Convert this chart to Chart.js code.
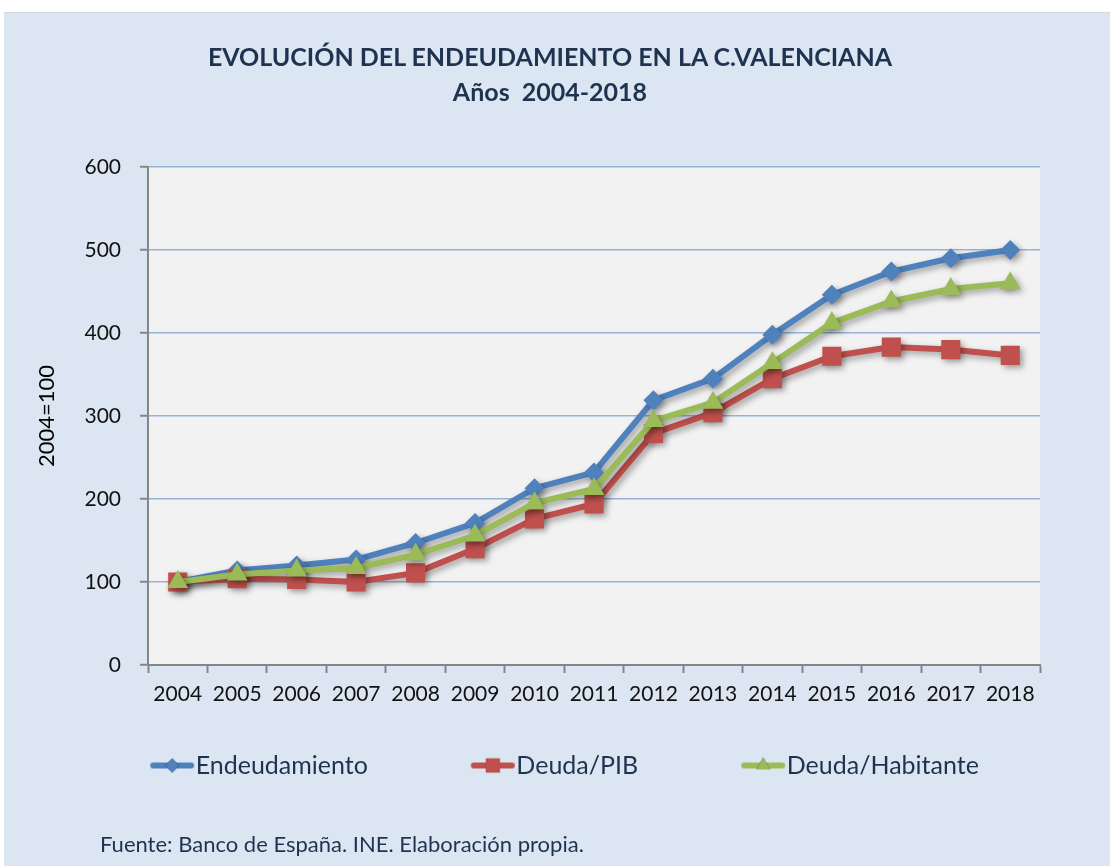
<!DOCTYPE html>
<html>
<head>
<meta charset="utf-8">
<script src="https://cdn.jsdelivr.net/npm/chart.js@4"></script>
<style>
  body { margin: 0; background: #fff; }
  #wrap {
    position: absolute; left: 4px; top: 12px; width: 1106px; height: 854px;
    background: #dce6f2; border-top: 1px solid #d4d8dd; box-sizing: border-box;
  }
  #title {
    position: absolute; left: 0; top: 26px; width: 1092px; text-align: center;
    font: bold 25px/35px Lato, sans-serif; color: #1f3350;
  }
  #footer {
    position: absolute; left: 96px; top: 817px; line-height: 26px;
    font: 22px Lato, sans-serif; color: #1f3350;
  }
</style>
</head>
<body>
<div id="wrap">
  <canvas id="chart"></canvas>
  <div id="title">EVOLUCIÓN DEL ENDEUDAMIENTO EN LA C.VALENCIANA<br>Años&nbsp; 2004-2018</div>
  <div id="footer">Fuente: Banco de España. INE. Elaboración propia.</div>
</div>
<script>
const years = ["2004", "2005", "2006", "2007", "2008", "2009", "2010", "2011",
  "2012", "2013", "2014", "2015", "2016", "2017", "2018"];
const endeudamiento = [100, 114, 120, 127, 147, 171, 213, 232, 319, 345, 398, 446, 474, 490, 500];
const deudaPIB = [100, 104, 103, 100, 111, 140, 176, 194, 279, 304, 345, 372, 383, 380, 373];
const deudaHabitante = [100, 109, 114, 117, 133, 156, 195, 212, 294, 316, 364, 412, 438, 453, 460];

const BLUE = "#4f81bd";
const RED = "#c0504d";
const GREEN = "#9bbb59";
const TEXT = "#1f3350";

// legend symbol: line with marker, drawn at the right side of a wider transparent canvas
const legendIcon = (color, style, radius) => {
  const c = document.createElement("canvas");
  c.width = 142;
  c.height = 24;
  const ctx = c.getContext("2d");
  ctx.strokeStyle = color;
  ctx.lineWidth = 6;
  ctx.lineCap = "round";
  ctx.beginPath();
  ctx.moveTo(100, 12);
  ctx.lineTo(138, 12);
  ctx.stroke();
  Chart.helpers.drawPoint(ctx, { pointStyle: style, radius: radius, rotation: 0, borderWidth: 0 }, 119, 12);
  ctx.fillStyle = color;
  ctx.fill();
  return c;
};

const plotBackground = {
  id: "plotBackground",
  beforeDraw(chart) {
    const { ctx, chartArea: a } = chart;
    ctx.save();
    ctx.fillStyle = "#f2f2f2";
    ctx.fillRect(a.left, a.top, a.right - a.left, a.bottom - a.top);
    ctx.restore();
  },
};

const lineShadow = {
  id: "lineShadow",
  beforeDatasetDraw(chart) {
    const ctx = chart.ctx;
    ctx.save();
    ctx.shadowColor = "rgba(0,0,0,0.35)";
    ctx.shadowBlur = 6;
    ctx.shadowOffsetX = 3;
    ctx.shadowOffsetY = 3;
  },
  afterDatasetDraw(chart) {
    chart.ctx.restore();
  },
};

new Chart(document.getElementById("chart"), {
  type: "line",
  data: {
    labels: years,
    datasets: [
      {
        label: "Endeudamiento",
        data: endeudamiento,
        borderColor: BLUE,
        backgroundColor: BLUE,
        pointStyle: "rectRot",
        pointRadius: 10,
        order: 3,
      },
      {
        label: "Deuda/PIB",
        data: deudaPIB,
        borderColor: RED,
        backgroundColor: RED,
        pointStyle: "rect",
        pointRadius: 13.5,
        order: 2,
      },
      {
        label: "Deuda/Habitante",
        data: deudaHabitante,
        borderColor: GREEN,
        backgroundColor: GREEN,
        pointStyle: "triangle",
        pointRadius: 12,
        order: 1,
      },
    ],
  },
  options: {
    responsive: true,
    maintainAspectRatio: false,
    animation: false,
    layout: { padding: { left: 0, right: 70, top: 154, bottom: 78 } },
    elements: {
      line: { borderWidth: 6, tension: 0 },
      point: { borderWidth: 0, hoverRadius: 10 },
    },
    plugins: {
      title: { display: false },
      legend: {
        position: "bottom",
        labels: {
          usePointStyle: true,
          pointStyleWidth: 118,
          color: TEXT,
          font: { family: "Lato", size: 25 },
          padding: 18,
          generateLabels(chart) {
            const icons = [
              legendIcon(BLUE, "rectRot", 7),
              legendIcon(RED, "rect", 10),
              legendIcon(GREEN, "triangle", 8),
            ];
            return chart.data.datasets.map((ds, i) => ({
              text: ds.label,
              pointStyle: icons[i],
              fontColor: TEXT,
              datasetIndex: i,
              lineWidth: 0,
            }));
          },
        },
      },
      tooltip: { enabled: false },
    },
    scales: {
      x: {
        offset: true,
        afterFit(scale) { scale.height = 70; },
        grid: {
          offset: true,
          drawOnChartArea: false,
          drawTicks: true,
          tickLength: 8,
          tickColor: "#868686",
          tickWidth: 2,
        },
        border: { color: "#868686", width: 2 },
        ticks: { color: "#111", font: { family: "Lato", size: 21 }, padding: 9, maxRotation: 0 },
      },
      y: {
        min: 0,
        max: 600,
        afterFit(scale) { scale.width = 144; },
        grid: {
          color: "#95b3d7",
          lineWidth: 1.5,
          tickLength: 8,
          tickColor: "#868686",
          tickWidth: 2,
        },
        border: { color: "#868686", width: 2 },
        ticks: { stepSize: 100, color: "#111", font: { family: "Lato", size: 21 }, padding: 19 },
        title: {
          display: true,
          text: "2004=100",
          color: "#000",
          font: { family: "Lato", size: 22 },
          padding: { top: 30, bottom: 0 },
        },
      },
    },
  },
  plugins: [plotBackground, lineShadow],
});
</script>
</body>
</html>
